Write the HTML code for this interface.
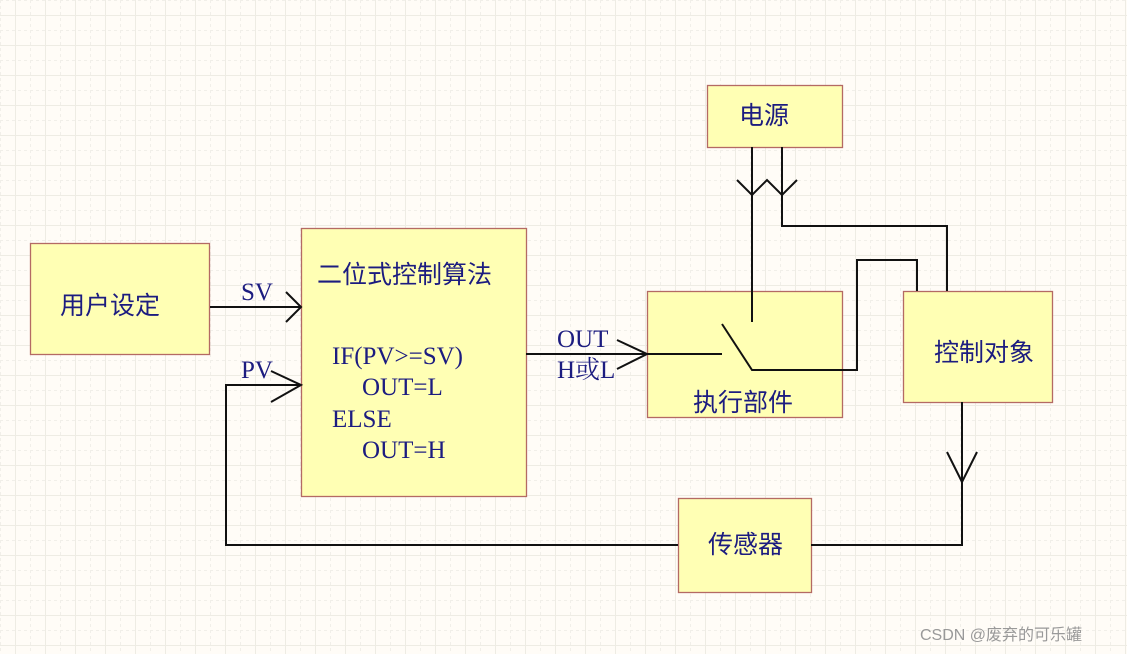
<!DOCTYPE html>
<html><head><meta charset="utf-8"><style>
html,body{margin:0;padding:0;width:1127px;height:654px;overflow:hidden;background:#fffcf7}
svg{display:block}
.t{font-family:"Liberation Serif","Noto Serif CJK SC",serif;fill:#1c1c80;font-size:25px}
.c{font-family:"Liberation Sans","Noto Sans CJK SC",sans-serif;fill:#1c1c80;font-size:25px}
</style></head><body>
<svg width="1127" height="654" xmlns="http://www.w3.org/2000/svg">
<defs>
<pattern id="g" width="30" height="30" patternUnits="userSpaceOnUse">
<path d="M15.5 0V30M0 15.5H30" stroke="#eeece4" stroke-width="1"/>
<path d="M0.5 0V30M0 0.5H30" stroke="#f1efe9" stroke-width="1" stroke-dasharray="3,3"/>
</pattern>
</defs>
<rect width="1127" height="654" fill="url(#g)"/>
<g fill="#ffffb4" stroke="#b46a64" stroke-width="1.3">
<rect x="30.5" y="243.5" width="179" height="111"/>
<rect x="301.5" y="228.5" width="225" height="268"/>
<rect x="647.5" y="291.5" width="195" height="126"/>
<rect x="707.5" y="85.5" width="135" height="62"/>
<rect x="903.5" y="291.5" width="149" height="111"/>
<rect x="678.5" y="498.5" width="133" height="94"/>
</g>
<g fill="none" stroke="#111" stroke-width="2">
<path d="M210 307H301M286 292L301 307L286 322"/>
<path d="M678 545H226V385H301M271 371L301 385L271 402"/>
<path d="M811 545H962V402M947 452L962 482L977 452"/>
<path d="M526 354H647M617 340L647 354L617 369"/>
<path d="M647 354H722M722 324L752 370H857V260H917V291"/>
<path d="M752 147V322M782 147V226H947V291"/>
<path d="M737 180L752 195L767 180L782 195L797 180"/>
</g>
<text class="c" x="60" y="314">用户设定</text>
<text class="c" x="317" y="283">二位式控制算法</text>
<text class="t" x="332" y="364">IF(PV&gt;=SV)</text>
<text class="t" x="362" y="395">OUT=L</text>
<text class="t" x="332" y="427">ELSE</text>
<text class="t" x="362" y="458">OUT=H</text>
<text class="t" x="241" y="300">SV</text>
<text class="t" x="241" y="378">PV</text>
<text class="t" x="557" y="347">OUT</text>
<text class="t" x="557" y="378">H或L</text>
<text class="c" x="739" y="124">电源</text>
<text class="c" x="934" y="361">控制对象</text>
<text class="c" x="693" y="411">执行部件</text>
<text class="c" x="708" y="553">传感器</text>
<text x="920" y="640" font-family="Liberation Sans,'Noto Sans CJK SC',sans-serif" font-size="16" fill="#999">CSDN @废弃的可乐罐</text>
</svg>
</body></html>
